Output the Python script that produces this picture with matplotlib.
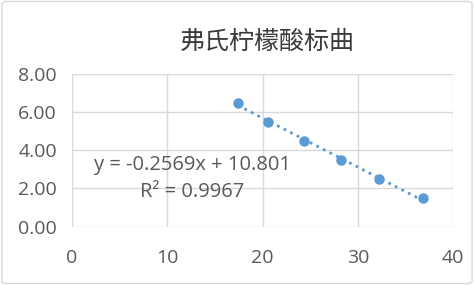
import matplotlib
matplotlib.use("Agg")
import matplotlib.pyplot as plt
from matplotlib.patches import FancyBboxPatch
import numpy as np

plt.rcParams['font.family'] = ['Open Sans', 'DejaVu Sans']

# data
volume = [17.4, 20.6, 24.3, 28.2, 32.2, 36.8]
conc = [6.5, 5.5, 4.5, 3.5, 2.5, 1.5]
title = '弗氏柠檬酸标曲'
eq_text = 'y = -0.2569x + 10.801'
r2_text = 'R² = 0.9967'
blue = '#5B9BD5'
grey = '#595959'

fig = plt.figure(figsize=(4.74, 2.85), dpi=100)
fig.patches.append(FancyBboxPatch((0.004, 0.005), 0.992, 0.99, boxstyle='round,pad=0,rounding_size=0.01',
                                  transform=fig.transFigure, fill=False, edgecolor='#d9d9d9', lw=1))

ax = fig.add_axes([0.152, 0.205, 0.804, 0.535])
ax.set_xlim(0, 40)
ax.set_ylim(0, 8)
ax.set_xticks([0, 10, 20, 30, 40])
ax.set_yticks([0, 2, 4, 6, 8])
ax.set_yticklabels(['%.2f' % v for v in [0, 2, 4, 6, 8]])
ax.grid(True, color='#d9d9d9', lw=1)
ax.set_axisbelow(True)
for s in ax.spines.values():
    s.set_visible(False)
ax.tick_params(length=0, labelsize=14, colors=grey)
ax.tick_params(axis='y', pad=11)
ax.tick_params(axis='x', pad=16)

ax.plot(volume, conc, 'o', color=blue, ms=6.5, zorder=3)
k, b = np.polyfit(volume, conc, 1)
xs = np.array([volume[0], volume[-1]])
ax.plot(xs, k * xs + b, ':', color=blue, lw=2, zorder=2)

ax.text(12.65, 3.23, eq_text, ha='center', va='center', fontsize=14.5, color=grey)
ax.text(12.65, 1.81, r2_text, ha='center', va='center', fontsize=14.5, color=grey)

fig.text(0.563, 0.853, title, ha='center', va='center', fontsize=18, weight='medium',
         family=['Noto Sans CJK SC', 'DejaVu Sans'], color='#3a3a3a')

fig.savefig('out.png', dpi=100)
